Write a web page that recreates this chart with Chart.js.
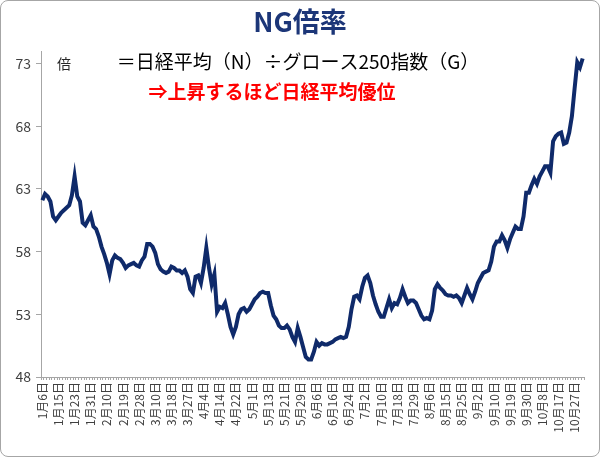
<!DOCTYPE html>
<html>
<head>
<meta charset="utf-8">
<script src="https://cdn.jsdelivr.net/npm/chart.js@4"></script>
<style>
  body { margin: 0; background: #fff; }
  #wrap { position: relative; width: 600px; height: 457px; }
  #frame { position: absolute; left: 0; top: 0; right: 0; bottom: 0; border: 1px solid #a6a6a6; border-radius: 8px; pointer-events: none; }
</style>
</head>
<body>
<div id="wrap">
  <canvas id="myChart" width="600" height="457"></canvas>
  <div id="frame"></div>
</div>
<script>
// trading-day holidays (TSE closed), 2025
var holidays = ['1-13', '2-11', '2-24', '3-20', '4-29', '5-5', '5-6', '7-21', '8-11', '9-15', '9-23', '10-13'];
var firstDay = '2025-01-06', lastDay = '2025-10-30';
var labelEvery = 6;

// y axis ticks
var yTicks = [48, 53, 58, 63, 68, 73];

// NG ratio, daily close
var ngJanFeb = [62.1, 62.6, 62.4, 62.0, 60.8, 60.5, 60.8, 61.1, 61.3, 61.5,
    61.7, 62.5, 64.0, 62.4, 62.0, 60.3, 60.1, 60.5, 60.9, 60.0,
    59.8, 59.2, 58.4, 57.8, 57.1, 56.2, 57.3, 57.7, 57.5, 57.4,
    57.1, 56.7, 56.9, 57.0, 57.1, 56.9, 56.8];
var ngMarApr = [57.3, 57.6, 58.6, 58.6, 58.4, 57.9, 57.0, 56.6, 56.4, 56.3,
    56.4, 56.8, 56.7, 56.5, 56.5, 56.3, 56.5, 56.0, 55.0, 54.7,
    56.0, 56.1, 55.5, 56.7, 58.3, 56.7, 55.4, 56.2, 53.2, 53.6,
    53.5, 53.9, 53.0, 52.0, 51.4, 52.0, 53.0, 53.4, 53.5, 53.2,
    53.4];
var ngMayJun = [53.8, 54.2, 54.4, 54.7, 54.8, 54.7, 54.7, 53.7, 52.9, 52.6,
    52.1, 51.9, 51.9, 52.1, 51.8, 51.2, 50.8, 51.9, 51.2, 50.4,
    49.6, 49.4, 49.4, 50.0, 50.8, 50.5, 50.7, 50.6, 50.6, 50.7,
    50.8, 51.0, 51.1, 51.2, 51.1, 51.2, 52.0, 53.4];
var ngJulAug = [54.4, 54.5, 54.2, 55.2, 55.9, 56.1, 55.5, 54.5, 53.8, 53.2,
    52.8, 52.8, 53.5, 54.2, 53.5, 53.9, 53.8, 54.3, 55.0, 54.4,
    53.9, 54.1, 54.1, 53.9, 53.4, 52.9, 52.6, 52.7, 52.6, 53.3,
    55.0, 55.4, 55.1, 54.9, 54.6, 54.5, 54.5, 54.4, 54.5, 54.3,
    53.9, 54.5, 55.1, 54.6, 54.2, 54.8];
var ngSepOct = [55.5, 55.9, 56.3, 56.4, 56.5, 57.2, 58.4, 58.8, 58.8, 59.3,
    58.9, 58.3, 59.0, 59.5, 60.0, 59.8, 59.8, 60.8, 62.7, 62.7,
    63.3, 63.8, 63.4, 64.0, 64.4, 64.8, 64.8, 64.3, 66.8, 67.2,
    67.4, 67.5, 66.6, 66.7, 67.5, 68.8, 71.0, 73.1, 72.7, 73.4];
var ngRatio = ngJanFeb.concat(ngMarApr, ngMayJun, ngJulAug, ngSepOct);

var days = [];
var d = new Date(firstDay + 'T00:00:00');
var end = new Date(lastDay + 'T00:00:00');
while (d <= end) {
    var wd = d.getDay();
    var key = (d.getMonth() + 1) + '-' + d.getDate();
    if (wd != 0 && wd != 6 && holidays.indexOf(key) < 0) {
        days.push((d.getMonth() + 1) + '月' + d.getDate() + '日');
    }
    d.setDate(d.getDate() + 1);
}

var fontJP = '"Noto Sans CJK JP", "Noto Sans", sans-serif';

// titles and notes drawn on the canvas
var notes = {
    id: 'notes',
    afterDraw: function(chart) {
        var c = chart.ctx;
        c.save();
        c.textBaseline = 'middle';
        c.textAlign = 'center';
        c.fillStyle = '#1c3678';
        c.font = 'bold 27px ' + fontJP;
        c.fillText('NG倍率', 300, 22);
        c.fillStyle = '#000';
        c.font = '19px ' + fontJP;
        c.fillText('＝日経平均（N）÷グロース250指数（G）', 298, 62);
        c.fillStyle = '#ff0000';
        c.font = 'bold 19px ' + fontJP;
        c.fillText('⇒上昇するほど日経平均優位', 272, 92);
        c.fillStyle = '#262626';
        c.font = '14px ' + fontJP;
        c.fillText('倍', 64, 64);
        c.restore();
    }
};

var ctx = document.getElementById('myChart').getContext('2d');
var myChart = new Chart(ctx, {
    type: 'line',
    data: {
        labels: days,
        datasets: [{
            label: 'NG倍率',
            data: ngRatio,
            borderColor: '#0f2a6a',
            borderWidth: 4,
            pointRadius: 0,
            tension: 0,
            fill: false
        }]
    },
    options: {
        responsive: false,
        devicePixelRatio: 1,
        animation: false,
        layout: { padding: { top: 51, left: 10, right: 16, bottom: 8 } },
        plugins: {
            legend: { display: false },
            tooltip: { enabled: false }
        },
        scales: {
            x: {
                offset: true,
                afterFit: function(scale) { scale.height = 72; },
                grid: {
                    offset: true,
                    drawOnChartArea: false,
                    tickLength: 3,
                    color: '#a6a6a6'
                },
                border: { color: '#a6a6a6' },
                ticks: {
                    autoSkip: false,
                    minRotation: 90,
                    maxRotation: 90,
                    padding: 2,
                    color: '#404040',
                    font: { family: fontJP, size: 12 },
                    callback: function(val, i) {
                        return i % labelEvery == 0 ? this.getLabelForValue(val) : '';
                    }
                }
            },
            y: {
                min: 48,
                max: 74,
                afterFit: function(scale) { scale.width = 31; },
                afterBuildTicks: function(scale) {
                    scale.ticks = yTicks.map(function(v) { return { value: v }; });
                },
                grid: {
                    drawOnChartArea: false,
                    tickLength: 5,
                    color: '#a6a6a6'
                },
                border: { color: '#a6a6a6' },
                ticks: {
                    padding: 5,
                    color: '#404040',
                    font: { family: fontJP, size: 14 }
                }
            }
        }
    },
    plugins: [notes]
});
</script>
</body>
</html>
